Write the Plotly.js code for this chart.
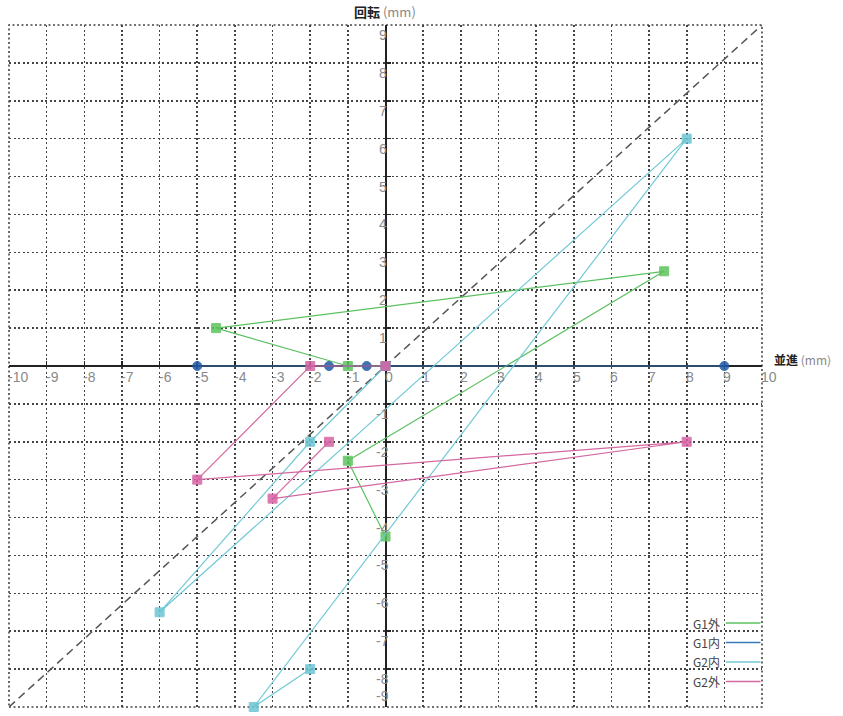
<!DOCTYPE html>
<html>
<head>
<meta charset="utf-8">
<script src="https://cdn.plot.ly/plotly-3.0.1.min.js"></script>
<style>html,body{margin:0;padding:0;background:#fff;}#chart{width:843px;height:716px;}</style>
</head>
<body>
<div id="chart"></div>
<script>
// ---- data ----
const xTicks = [-10,-9,-8,-7,-6,-5,-4,-3,-2,-1,0,1,2,3,4,5,6,7,8,9,10];
const yTicks = [9,8,7,6,5,4,3,2,1,-1,-2,-3,-4,-5,-6,-7,-8,-9];
const xRange = [-10, 10];
const yRange = [-9, 9];
const seriesNames = ["G1外", "G1内", "G2内", "G2外"];
const g1OutX = [0, -1, -4.5, 7.4, -1, 0];
const g1OutY = [0, 0, 1, 2.5, -2.5, -4.5];
const g1InX = [0, -0.5, -1.5, -5, 9];
const g1InY = [0, 0, 0, 0, 0];
const g2InX = [0, -2, -6, 8, -3.5, -2];
const g2InY = [0, -2, -6.5, 6, -9, -8];
const g2OutX = [0, -2, -5, 8, -3, -1.5];
const g2OutY = [0, 0, -3, -2, -3.5, -2];
const refX = [-10, 10];
const refY = [-9, 9];
const yTitle = "<b>回転</b> <span style='color:#888'>(mm)</span>";
const xTitle = "<b>並進</b> <span style='color:#888'>(mm)</span>";

// ---- styles ----
const colors = ["#5cc062", "#3b78b5", "#72c9d6", "#d468a0"];
const markerColors = ["#5cc45c", "#1f5aa6", "#6cc6d4", "#d662a4"];
const symbols = ["square", "circle", "square", "square"];
const xs = [g1OutX, g1InX, g2InX, g2OutX];
const ys = [g1OutY, g1InY, g2InY, g2OutY];

const traces = [{
  x: refX, y: refY, mode: "lines", showlegend: false, hoverinfo: "skip",
  line: {color: "#555", width: 1.5, dash: "8px,5px"}
}];
for (let i = 0; i < 4; i++) {
  traces.push({
    x: xs[i], y: ys[i], name: seriesNames[i], mode: "lines+markers", cliponaxis: false,
    line: {color: colors[i], width: 1.2},
    marker: {color: markerColors[i], size: 9, symbol: symbols[i], opacity: 0.85,
             line: {color: markerColors[i], width: 1}}
  });
}

const posX = (0 - xRange[0]) / (xRange[1] - xRange[0]);
const posY = (0 - yRange[0]) / (yRange[1] - yRange[0]);

const annotations = [];
const tickFont = {family: "Liberation Sans Narrow, Liberation Sans, sans-serif", size: 14, color: "#8a8a8a"};
xTicks.forEach(v => annotations.push({
  x: v, y: 0, xref: "x", yref: "y", text: String(v), showarrow: false,
  xanchor: "left", yanchor: "top", xshift: -3, yshift: -1, font: tickFont
}));
yTicks.forEach(v => {
  const last = (v === yRange[0]);
  annotations.push({
    x: 0, y: v, xref: "x", yref: "y", text: String(v), showarrow: false,
    xanchor: "center", yanchor: last ? "bottom" : "top", xshift: -3, yshift: last ? 1 : 0, font: tickFont
  });
});
annotations.push({x: 0, y: yRange[1], xref: "x", yref: "y", text: yTitle, showarrow: false,
  xanchor: "center", yanchor: "bottom", yshift: 2, xshift: -1,
  font: {family: "Noto Sans CJK JP, sans-serif", size: 13, color: "#222"}});
annotations.push({x: xRange[1], y: 0, xref: "x", yref: "y", text: xTitle, showarrow: false,
  xanchor: "left", yanchor: "bottom", xshift: 10, yshift: -4,
  font: {family: "Noto Sans CJK JP, sans-serif", size: 12, color: "#222"}});

// border of the grid (dotted, like inner grid lines)
const shapes = [{type: "rect", xref: "paper", yref: "paper", x0: 0, x1: 1, y0: 0, y1: 1,
  layer: "below", line: {color: "#444", width: 1.6, dash: "2px,2.5px"}}];

// legend (text left, line sample right)
const legTop = 0.123, legStep = 0.0285;
seriesNames.forEach((n, i) => {
  const yy = legTop - i * legStep;
  annotations.push({x: 0.947, y: yy, xref: "paper", yref: "paper", text: n, showarrow: false,
    xanchor: "right", yanchor: "middle",
    font: {family: "Noto Sans CJK JP, sans-serif", size: 12, color: "#444"}});
  shapes.push({type: "line", xref: "paper", yref: "paper", x0: 0.952, x1: 0.998, y0: yy, y1: yy,
    line: {color: colors[i], width: 1.5}});
});

const axisCommon = {
  showgrid: true, gridcolor: "#444", gridwidth: 1.6, griddash: "2px,2.5px",
  zeroline: false, showline: true, linecolor: "#222", linewidth: 2,
  ticks: "inside", ticklen: 4, tickwidth: 1.5, tickcolor: "#222",
  showticklabels: false, anchor: "free", layer: "below traces", fixedrange: true
};

const layout = {
  width: 843, height: 716,
  margin: {l: 9, r: 81, t: 25, b: 9},
  paper_bgcolor: "#fff", plot_bgcolor: "#fff",
  showlegend: false,
  xaxis: Object.assign({}, axisCommon, {range: xRange, tickvals: xTicks, position: posY}),
  yaxis: Object.assign({}, axisCommon, {range: yRange, tickvals: yTicks, position: posX}),
  annotations: annotations,
  shapes: shapes
};

Plotly.newPlot("chart", traces, layout, {staticPlot: true});
</script>
</body>
</html>
